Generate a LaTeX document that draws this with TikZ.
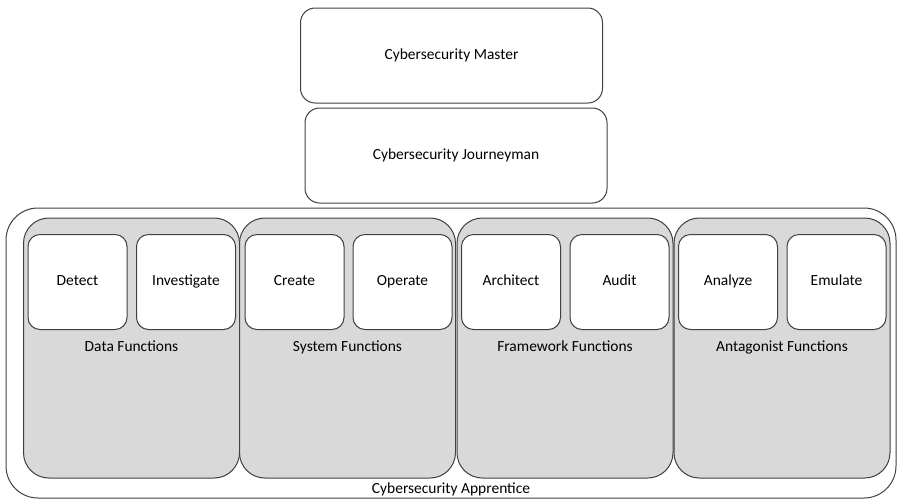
\documentclass[tikz,border=0pt]{standalone}
\usepackage{fontspec}
\setmainfont{Carlito}
\begin{document}
\begin{tikzpicture}
    [
    x=0.75pt, y=-0.75pt,
    font=\fontsize{11.6}{13}\selectfont,
    text height=1.6ex, text depth=0.4ex,
    level/.style={draw=black!75,line width=0.75pt,rounded corners=11pt,minimum width=226.5pt,minimum height=71.25pt},
    outer/.style={draw=black!75,line width=0.75pt,rounded corners=24pt,minimum width=667.5pt,minimum height=217.5pt},
    group/.style={draw=black!75,line width=0.75pt,fill=black!15,rounded corners=19pt,minimum width=162pt,minimum height=195pt},
    func/.style={draw=black!75,line width=0.75pt,fill=white,rounded corners=9pt,minimum width=74.25pt,minimum height=71.25pt}
    ]
    \useasboundingbox (0,0) rectangle (907,501);

    \node (master) at (451.5,55.5) [level] {Cybersecurity Master};
    \node (journeyman) at (456,155.5) [level] {Cybersecurity Journeyman};

    \node (apprentice) at (451,353) [outer] {};
    \node (apprenticelabel) at (451,490) {Cybersecurity Apprentice};

    \node (data) at (131.5,348) [group] {};
    \node (system) at (347.5,348) [group] {};
    \node (framework) at (565,348) [group] {};
    \node (antagonist) at (782,348) [group] {};

    \node (datalabel) at (131.5,348) {Data Functions};
    \node (systemlabel) at (347.5,348) {System Functions};
    \node (frameworklabel) at (565,348) {Framework Functions};
    \node (antagonistlabel) at (782,348) {Antagonist Functions};

    \node (detect) at (77.5,282) [func] {Detect};
    \node (investigate) at (186,282) [func] {Investigate};
    \node (create) at (294.5,282) [func] {Create};
    \node (operate) at (402.5,282) [func] {Operate};
    \node (architect) at (511,282) [func] {Architect};
    \node (audit) at (619.5,282) [func] {Audit};
    \node (analyze) at (728,282) [func] {Analyze};
    \node (emulate) at (836.5,282) [func] {Emulate};
  \end{tikzpicture}
\end{document}
